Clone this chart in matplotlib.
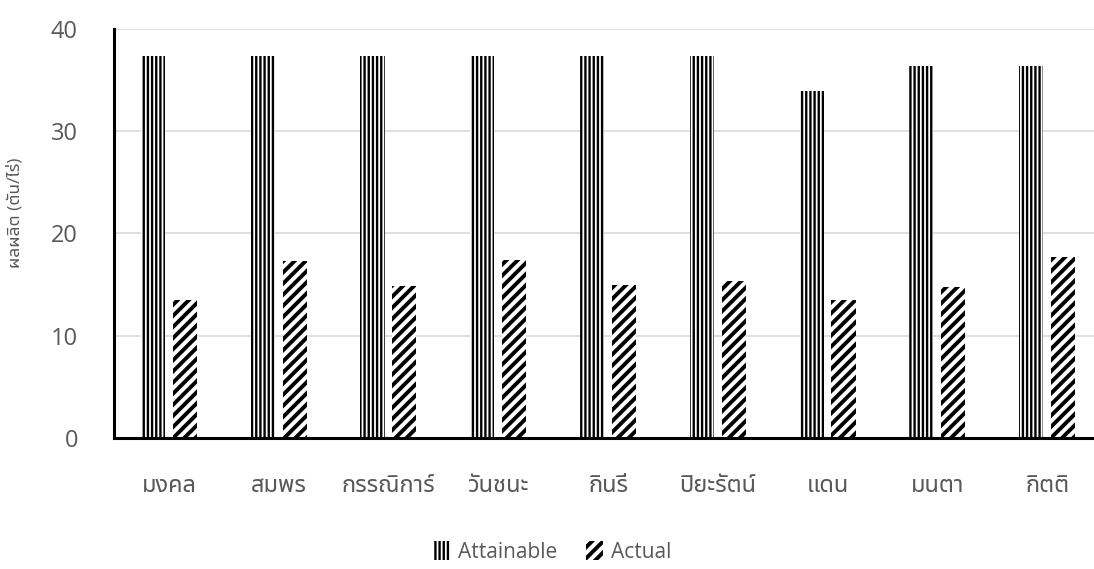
import matplotlib
matplotlib.use("Agg")
import matplotlib.pyplot as plt
import numpy as np

names = ["มงคล", "สมพร", "กรรณิการ์", "วันชนะ", "กินรี", "ปิยะรัตน์", "แดน", "มนตา", "กิตติ"]
attainable = [37.4, 37.4, 37.4, 37.4, 37.4, 37.4, 33.9, 36.4, 36.4]
actual = [13.5, 17.3, 14.9, 17.4, 15.0, 15.4, 13.5, 14.8, 17.7]

# Latin text from Open Sans, Thai glyphs fall through to Noto Sans Thai UI
plt.rcParams["font.family"] = ["Open Sans", "Noto Sans Thai UI", "DejaVu Sans"]

grey = "#595959"
fig = plt.figure(figsize=(10.94, 5.69), dpi=100)
ax = fig.add_axes([114 / 1094, 1 - 438 / 569, 988 / 1094, 409 / 569])

x = np.arange(len(names))
w = 0.22
# thin vertical stripes for attainable, heavy diagonals for actual
plt.rcParams["hatch.linewidth"] = 1.7
b1 = ax.bar(x - 0.145, attainable, w, facecolor="white", edgecolor="black",
            hatch="||||", linewidth=0, label="Attainable")
plt.rcParams["hatch.linewidth"] = 2.8
b2 = ax.bar(x + 0.145, actual, w, facecolor="white", edgecolor="black",
            hatch="///", linewidth=0, label="Actual")
for bars, lw in ((b1, 1.7), (b2, 2.8)):
    for p in bars:
        if hasattr(p, "set_hatch_linewidth"):
            p.set_hatch_linewidth(lw)

ax.set_xlim(-0.5, len(names) - 0.5)
ax.set_ylim(0, 40)
ax.set_yticks([0, 10, 20, 30, 40])
ax.set_xticks(x)
ax.set_xticklabels(names)
ax.yaxis.grid(True, color="#d9d9d9", linewidth=1.2)
ax.set_axisbelow(True)
for s in ["top", "right"]:
    ax.spines[s].set_visible(False)
ax.spines["left"].set_linewidth(2.2)
ax.spines["bottom"].set_linewidth(2.2)
ax.tick_params(length=0, colors=grey)
ax.tick_params(axis="x", labelsize=17, pad=26)
ax.tick_params(axis="y", labelsize=17, pad=26)
ax.set_ylabel("ผลผลิต (ตัน/ไร่)", fontsize=12.5, color=grey)
ax.yaxis.set_label_coords(-0.092, 0.55)

leg = fig.legend(loc="lower center", bbox_to_anchor=(0.505, -0.022), ncol=2, frameon=False,
                 fontsize=15, labelcolor=grey, handlelength=0.8, handleheight=1.0,
                 columnspacing=1.4, handletextpad=0.4)
for h, lw in zip(leg.legend_handles, (1.7, 2.8)):
    if hasattr(h, "set_hatch_linewidth"):
        h.set_hatch_linewidth(lw)
fig.savefig("out.png", dpi=100)
